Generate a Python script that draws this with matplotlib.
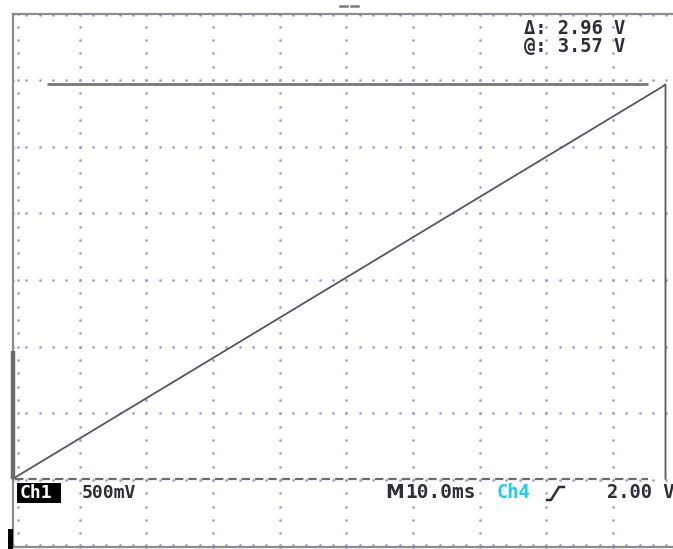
import matplotlib
matplotlib.use("Agg")
import matplotlib.pyplot as plt
import numpy as np
from matplotlib.patches import Rectangle
from matplotlib.lines import Line2D

plt.rcParams["lines.scale_dashes"] = False

# Scope settings
time_per_div_ms = 10.0
volts_per_div = 0.5
center_volts = 2.10
n_hdiv = 10
n_vdiv = 8

# Channel 1 sawtooth sweep
trace_time_ms = [0.0, 97.4, 97.9, 97.9]
trace_volts = [0.61, 3.55, 3.57, 0.61]
# tail of the previous sweep on the left edge
prev_time_ms = [0.0, 0.0]
prev_volts = [0.61, 1.57]

# Cursors
cursor_at_volts = 3.57
cursor_delta_volts = 2.96
cursor_ref_volts = cursor_at_volts - cursor_delta_volts
cursor_at_span_ms = [5.1, 95.2]
cursor_ref_span_ms = [0.3, 95.2]

# Readout texts
readout_delta = "Δ: 2.96 V"
readout_at = "@: 3.57 V"
ch_label = "Ch1"
ch_scale = "500mV"
timebase_prefix = "M"
timebase = "10.0ms"
trig_src = "Ch4"
trig_level = "2.00 V"

W, H = 673, 549
fig = plt.figure(figsize=(W / 100, H / 100), dpi=100)
fig.patch.set_facecolor("white")

# Graticule area in pixels (extends slightly past the right edge)
left_px, top_px = 13.0, 13.5
div_px = 66.65
ax = fig.add_axes([left_px / W,
                   (H - top_px - n_vdiv * div_px) / H,
                   n_hdiv * div_px / W,
                   n_vdiv * div_px / H])
ax.set_xlim(0, n_hdiv * time_per_div_ms)
half_v = n_vdiv / 2 * volts_per_div
ax.set_ylim(center_volts - half_v, center_volts + half_v)
ax.set_xticks([])
ax.set_yticks([])
for side in ["left", "top", "bottom", "right"]:
    ax.spines[side].set_color("#8c8c8c")
    ax.spines[side].set_linewidth(1.6)

dot_color = "#9898d8"
ms = 1.9
x0, x1 = ax.get_xlim()
y0, y1 = ax.get_ylim()
sub_t = time_per_div_ms / 5
sub_v = volts_per_div / 5

# dotted vertical graticule lines
vy = np.arange(y0, y1 + 1e-9, sub_v)
for k in range(1, n_hdiv):
    xs = np.full_like(vy, x0 + k * time_per_div_ms)
    ax.plot(xs, vy, ls="none", marker="o", ms=ms, mec="none", mfc=dot_color,
            clip_on=False, zorder=2)
# dotted horizontal graticule lines
hx = np.arange(x0, x1 + 1e-9, sub_t)
for k in range(1, n_vdiv):
    ys = np.full_like(hx, y0 + k * volts_per_div)
    ax.plot(hx, ys, ls="none", marker="o", ms=ms, mec="none", mfc=dot_color,
            clip_on=False, zorder=2)
# edge ticks
edge_off_t = 0.08 * time_per_div_ms
edge_off_v = 0.03 * volts_per_div
ax.plot(np.full_like(vy, x0 + edge_off_t), vy, ls="none", marker="o", ms=ms,
        mec="none", mfc=dot_color, zorder=2)
ax.plot(hx, np.full_like(hx, y1 - edge_off_v), ls="none", marker="o", ms=ms,
        mec="none", mfc=dot_color, zorder=2, clip_on=False)
ax.plot(hx, np.full_like(hx, y0 + edge_off_v), ls="none", marker="o", ms=ms,
        mec="none", mfc=dot_color, zorder=2, clip_on=False)

# cursors
ax.plot(cursor_at_span_ms, [cursor_at_volts] * 2, color="#767676", lw=2.0,
        zorder=3, solid_capstyle="butt")
ax.plot(cursor_ref_span_ms, [cursor_ref_volts] * 2, color="#6a6a6a", lw=1.6,
        dashes=(6.0, 3.6), zorder=3)
ref_marks = np.arange(cursor_ref_span_ms[0] + 2 * sub_t, cursor_ref_span_ms[1], 2 * sub_t)
ax.plot(ref_marks, np.full_like(ref_marks, cursor_ref_volts), ls="none",
        marker="o", ms=1.3, mec="none", mfc="#e06868", zorder=4)

# waveform
ax.plot(trace_time_ms, trace_volts, color="#555566", lw=1.3, zorder=5,
        clip_on=False, solid_joinstyle="miter")
ax.plot(prev_time_ms, prev_volts, color="#6a6a6a", lw=3.2, zorder=5,
        clip_on=False, solid_capstyle="butt")

# readouts
mono = dict(family="DejaVu Sans Mono", weight="bold", fontsize=13,
            color="#2e2e38", va="center", ha="left")


def px(x, y):
    return x / W, 1 - y / H


fig.text(*px(524, 28), readout_delta, **{**mono, "fontsize": 13.5})
fig.text(*px(524, 47), readout_at, **{**mono, "fontsize": 13.5})

fig.add_artist(Rectangle(px(17, 503), 44 / W, 20 / H, transform=fig.transFigure,
                         facecolor="black", edgecolor="none", zorder=6))
fig.text(*px(20, 493), ch_label, **{**mono, "color": "white", "zorder": 7})
fig.text(*px(82, 493), ch_scale, **mono)
fig.text(*px(385, 493), timebase_prefix,
         **{**mono, "family": "DejaVu Sans", "fontsize": 13.5})
fig.text(*px(405, 493), timebase, **{**mono, "fontsize": 14})
fig.text(*px(497, 493), trig_src, **{**mono, "color": "#19d0ee", "fontsize": 13.5})
fig.text(*px(607, 493), trig_level, **{**mono, "fontsize": 13.5})

# rising-edge trigger symbol
edge = [(547, 500), (551, 500), (559, 487), (564, 487)]
fig.add_artist(Line2D([px(*p)[0] for p in edge], [px(*p)[1] for p in edge],
                      transform=fig.transFigure, color="#2e2e38", lw=1.8))

# trigger position marker at top
for xa, xb in [(340, 347), (351, 358)]:
    fig.add_artist(Line2D([xa / W, xb / W], [1 - 6 / H, 1 - 6 / H],
                          transform=fig.transFigure, color="#7a7a7a", lw=1.8))

# ground marker at lower left
fig.add_artist(Rectangle(px(8, 549), 5 / W, 20 / H, transform=fig.transFigure,
                         facecolor="black", edgecolor="none", zorder=6))

fig.savefig("out.png", dpi=100, facecolor="white")
